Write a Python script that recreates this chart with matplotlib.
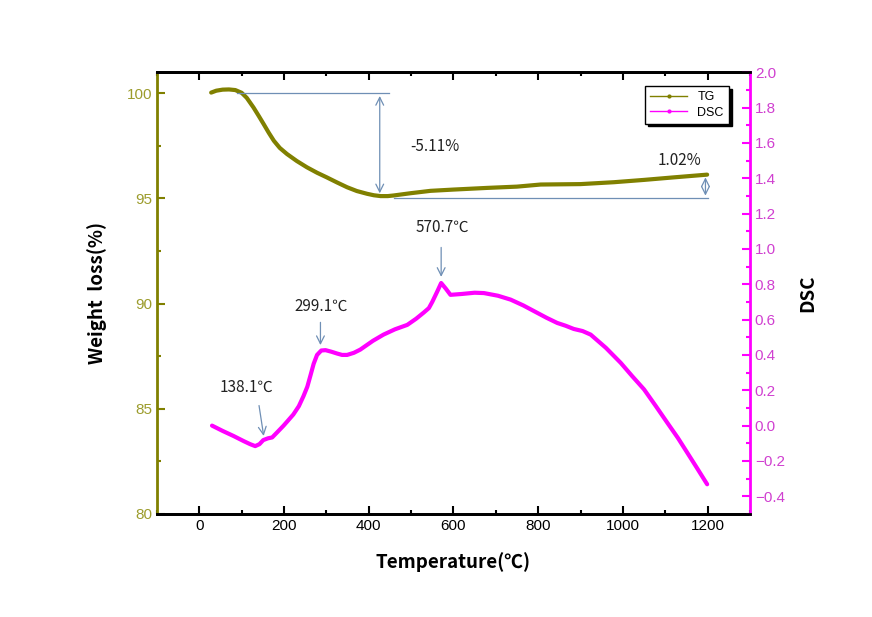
import matplotlib.pyplot as plt
import numpy as np
from matplotlib.lines import Line2D
from matplotlib.ticker import MultipleLocator

plt.rcParams['font.family'] = ['Liberation Sans', 'DejaVu Sans']

# TG curve (temperature, weight %)
tg_T = [28, 40, 55, 70, 85, 100, 112, 128, 140, 152, 164, 176, 190, 207, 230,
        254, 278, 301, 325, 349, 372, 396, 412, 428, 445, 459, 500, 546, 600,
        680, 750, 806, 900, 979, 1050, 1120, 1199]
tg_W = [100.03, 100.12, 100.17, 100.18, 100.15, 100.02, 99.78, 99.32, 98.93,
        98.53, 98.12, 97.74, 97.40, 97.11, 96.78, 96.48, 96.22, 96.0, 95.76,
        95.53, 95.35, 95.22, 95.15, 95.11, 95.11, 95.14, 95.25, 95.36, 95.42,
        95.50, 95.56, 95.66, 95.68, 95.77, 95.88, 96.0, 96.13]

# DSC curve (temperature, DSC signal)
dsc_T = [30, 55, 81, 105, 120, 132, 142, 151, 162, 172, 185, 199, 210, 222,
         235, 246, 255, 262, 270, 278, 288, 298, 312, 325, 337, 349, 365, 380,
         410, 435, 462, 491, 512, 530, 542, 550, 562, 571, 582, 593, 620, 650,
         672, 705, 735, 765, 798, 820, 845, 865, 884, 905, 924, 960, 995, 1022,
         1050, 1078, 1105, 1130, 1152, 1175, 1199]
dsc_V = [0.0, -0.03, -0.059, -0.088, -0.105, -0.116, -0.105, -0.082, -0.072,
         -0.067, -0.035, 0.0, 0.03, 0.063, 0.11, 0.167, 0.22, 0.28, 0.35, 0.40,
         0.425, 0.427, 0.418, 0.408, 0.40, 0.40, 0.412, 0.43, 0.48, 0.515, 0.545,
         0.57, 0.605, 0.64, 0.665, 0.70, 0.76, 0.807, 0.775, 0.74, 0.745, 0.752,
         0.75, 0.735, 0.713, 0.68, 0.638, 0.61, 0.581, 0.565, 0.547, 0.535,
         0.515, 0.44, 0.355, 0.28, 0.205, 0.11, 0.016, -0.07, -0.153, -0.24,
         -0.332]

olive = '#808000'
magenta = '#ff00ff'
arrow_c = '#6f8fb5'

fig = plt.figure(figsize=(8.72, 6.17), dpi=100)
ax = fig.add_axes([0.180, 0.167, 0.680, 0.716])
ax2 = ax.twinx()

ax.plot(tg_T, tg_W, color=olive, lw=3, solid_capstyle='round', solid_joinstyle='round')
ax2.plot(dsc_T, dsc_V, color=magenta, lw=3, solid_capstyle='round', solid_joinstyle='round')

ax.set_xlim(-100, 1300)
ax.set_ylim(80, 101)
ax2.set_ylim(-0.5, 2.0)

ax.xaxis.set_major_locator(MultipleLocator(200))
ax.xaxis.set_minor_locator(MultipleLocator(100))
ax.yaxis.set_major_locator(MultipleLocator(5))
ax.yaxis.set_minor_locator(MultipleLocator(2.5))
ax2.yaxis.set_major_locator(MultipleLocator(0.2))
ax2.yaxis.set_minor_locator(MultipleLocator(0.1))

ax.tick_params(axis='x', which='both', direction='in', top=True, colors='black',
               labelsize=11, width=1.5)
ax.tick_params(axis='x', which='major', length=6)
ax.tick_params(axis='x', which='minor', length=3)
ax.tick_params(axis='y', which='both', direction='in', colors=olive, width=1.5,
               labelsize=11, labelcolor='#9c9c2c')
ax.tick_params(axis='y', which='major', length=6)
ax.tick_params(axis='y', which='minor', length=3)
ax2.tick_params(axis='y', which='both', direction='in', colors=magenta, width=1.5,
                labelsize=11, labelcolor='#d040d0')
ax2.tick_params(axis='y', which='major', length=6)
ax2.tick_params(axis='y', which='minor', length=3)

for a in (ax, ax2):
    for s in a.spines.values():
        s.set_linewidth(2)
ax.spines['left'].set_color(olive)
ax2.spines['left'].set_visible(False)
ax2.spines['right'].set_color(magenta)
ax.spines['right'].set_visible(False)

lab_font = dict(family=['Noto Sans CJK KR', 'DejaVu Sans'], fontsize=13.5, weight='bold')
ax.set_xlabel('Temperature(℃)', labelpad=14, **lab_font)
ax.set_ylabel('Weight  loss(%)', labelpad=14, **lab_font)
ax2.set_ylabel('DSC', labelpad=10, **lab_font)

# annotations on TG curve
ann_font = dict(family=['Noto Sans CJK KR', 'DejaVu Sans'], fontsize=11, color='#222222')
arw = dict(arrowstyle='<->', color=arrow_c, lw=0.9, mutation_scale=14)
ax.plot([90, 447], [100, 100], color=arrow_c, lw=0.9)
ax.annotate('', xy=(426, 95.11), xytext=(426, 100), arrowprops=arw)
ax.text(557, 97.45, '-5.11%', ha='center', va='center', **ann_font)
ax.plot([459, 1200], [95.0, 95.0], color=arrow_c, lw=0.9)
ax.annotate('', xy=(1195, 95.0), xytext=(1195, 96.13), arrowprops=arw)
ax.text(1134, 96.8, '1.02%', ha='center', va='center', **ann_font)

# peak annotations on DSC curve
one = dict(arrowstyle='->', color=arrow_c, lw=0.9, mutation_scale=14)
ax2.annotate('', xy=(153, -0.074), xytext=(140, 0.129), arrowprops=one)
ax2.text(111, 0.216, '138.1℃', ha='center', va='center', **ann_font)
ax2.annotate('', xy=(286, 0.44), xytext=(286, 0.60), arrowprops=one)
ax2.text(288, 0.673, '299.1℃', ha='center', va='center', **ann_font)
ax2.annotate('', xy=(571, 0.826), xytext=(571, 1.024), arrowprops=one)
ax2.text(574, 1.12, '570.7℃', ha='center', va='center', **ann_font)

handles = [Line2D([], [], color=olive, lw=1, marker='.', markersize=4),
           Line2D([], [], color=magenta, lw=1, marker='.', markersize=4)]
leg = ax2.legend(handles, ['TG', 'DSC'], loc='upper right',
                 bbox_to_anchor=(0.975, 0.982), fancybox=False,
                 shadow={'color': 'black', 'alpha': 1}, edgecolor='black',
                 fontsize=9, handlelength=3, borderpad=0.4, labelspacing=0.25,
                 framealpha=1)
leg.get_frame().set_linewidth(1)

fig.savefig('out.png', dpi=100)
